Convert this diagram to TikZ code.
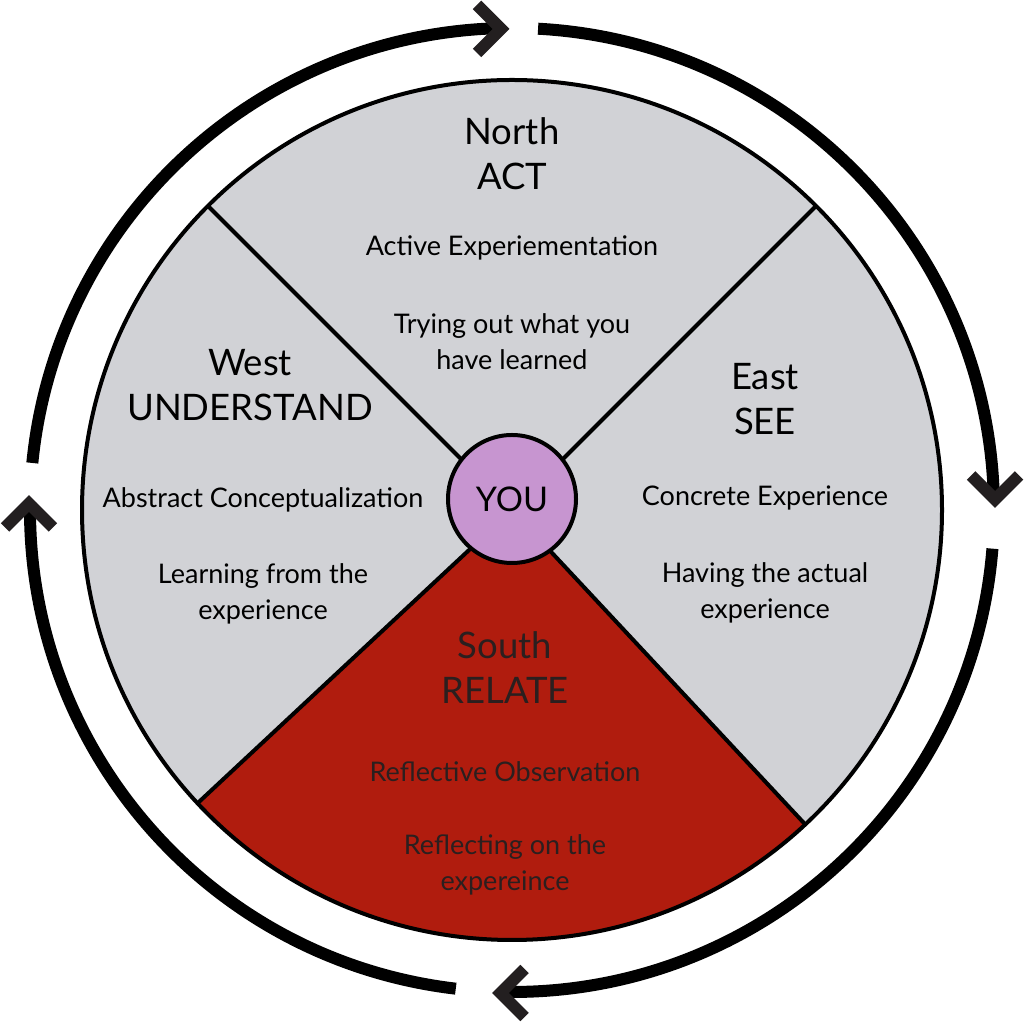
\documentclass[tikz,border=0pt]{standalone}
\usepackage{fontspec}
\setmainfont{Lato}
\definecolor{wheelgrey}{HTML}{D1D2D6}
\definecolor{wheelred}{HTML}{B01C0E}
\definecolor{lilac}{HTML}{C795D0}
\definecolor{redtext}{HTML}{2B1F1F}
\definecolor{chevc}{HTML}{231F20}
\begin{document}
\begin{tikzpicture}[x=1pt,y=1pt,
  ring/.style={line width=12pt, black},
  chev/.style={line width=12pt, color=chevc, line join=miter, miter limit=10},
  edge/.style={line width=4pt, black},
  titletext/.style={font=\fontsize{36.5}{45}\selectfont, align=center, inner sep=0pt},
  subtext/.style={font=\fontsize{27}{36}\selectfont, align=center, inner sep=0pt},
]
\useasboundingbox (0,0) rectangle (1024,1024);
\coordinate (C) at (512,514);
% wheel
\fill[wheelgrey] (C) circle[radius=430];
\fill[wheelred] (C) -- ++(-137:430) arc[start angle=-137, end angle=-47, radius=430] -- cycle;
\draw[edge] (C) circle[radius=430];
\draw[edge] (C) -- ++(45:430);
\draw[edge] (C) -- ++(135:430);
\draw[edge] (C) -- ++(-137:430);
\draw[edge] (C) -- ++(-47:430);
% outer ring arcs
\draw[ring] (C) ++(174.4:482) arc[start angle=174.4, end angle=91.5, radius=482];
\draw[ring] (C) ++(86.9:482) arc[start angle=86.9, end angle=1.3, radius=482];
\draw[ring] (C) ++(-4.6:482) arc[start angle=-4.6, end angle=-91.4, radius=482];
\draw[ring] (C) ++(-96.7:482) arc[start angle=-96.7, end angle=-180.9, radius=482];
% chevrons
\begin{scope}[shift={(501,995)}]
  \draw[chev] (-24,24) -- (0,0) -- (-24,-24);
\end{scope}
\begin{scope}[shift={(995,524.5)}, rotate=-90]
  \draw[chev] (-24,24) -- (0,0) -- (-24,-24);
\end{scope}
\begin{scope}[shift={(500.5,31)}, rotate=180]
  \draw[chev] (-24,24) -- (0,0) -- (-24,-24);
\end{scope}
\begin{scope}[shift={(29,520.5)}, rotate=90]
  \draw[chev] (-24,24) -- (0,0) -- (-24,-24);
\end{scope}
% centre
\node[draw, line width=4pt, fill=lilac, circle, minimum size=128pt, inner sep=0pt,
      font=\fontsize{34}{40}\selectfont] (you) at (512,525) {YOU};
% North
\node[titletext] (ntitle) at (512,870) {North\\ACT};
\node[subtext] (nsub1) at (512,776) {Active Experiementation};
\node[subtext] (nsub2) at (512,682) {Trying out what you\\have learned};
% West
\node[titletext] (wtitle) at (250,639) {West\\UNDERSTAND};
\node[subtext] (wsub1) at (263,524) {Abstract Conceptualization};
\node[subtext] (wsub2) at (263,430) {Learning from the\\experience};
% East
\node[titletext] (etitle) at (765,625) {East\\SEE};
\node[subtext] (esub1) at (765,526) {Concrete Experience};
\node[subtext] (esub2) at (765,431) {Having the actual\\experience};
% South
\node[titletext, text=redtext] (stitle) at (505,356) {South\\RELATE};
\node[subtext, text=redtext] (ssub1) at (505,252) {Reflective Observation};
\node[subtext, text=redtext] (ssub2) at (505,159) {Reflecting on the\\expereince};
\end{tikzpicture}
\end{document}
